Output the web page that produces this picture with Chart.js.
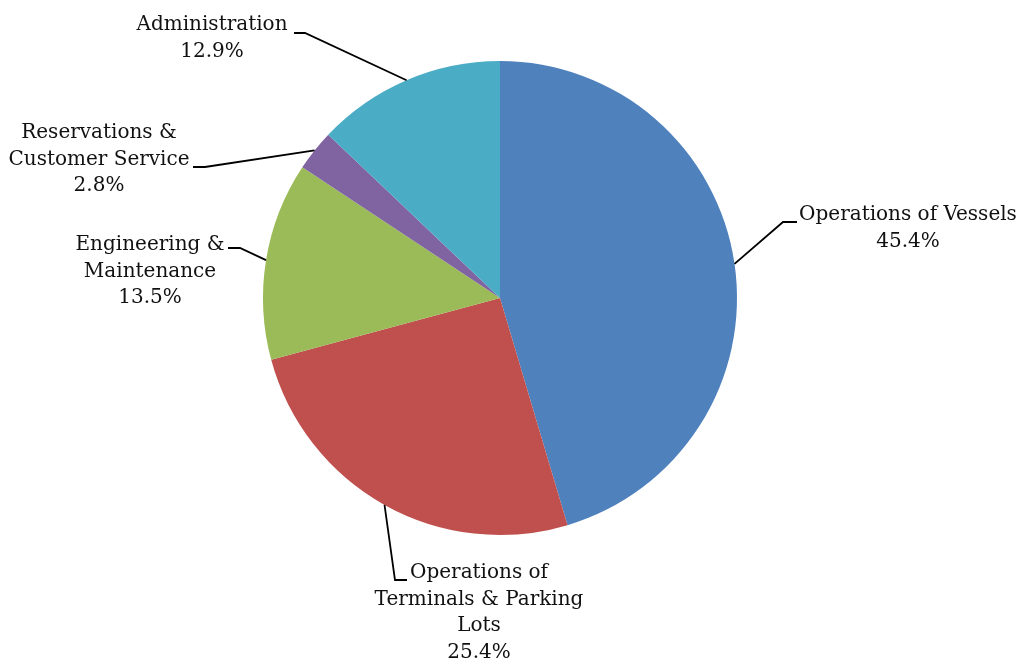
<!DOCTYPE html>
<html>
<head>
<meta charset="utf-8">
<script src="https://cdn.jsdelivr.net/npm/chart.js@4.4.1/dist/chart.umd.min.js"></script>
<style>
  html, body { margin: 0; padding: 0; background: #ffffff; }
  #wrap { width: 1019px; height: 660px; }
</style>
</head>
<body>
<div id="wrap"><canvas id="pie" width="1019" height="660"></canvas></div>
<script>
// Budget share by function (percent)
const categories = [
  'Operations of Vessels',
  'Operations of Terminals & Parking Lots',
  'Engineering & Maintenance',
  'Reservations & Customer Service',
  'Administration'
];
const shares = [45.4, 25.4, 13.5, 2.8, 12.9];
const sliceColors = ['#4F81BD', '#C0504D', '#9BBB59', '#8064A2', '#4BACC6'];

// Wrapped label lines for each slice (the percentage line is appended from the data)
const labelLines = [
  ['Operations of Vessels'],
  ['Operations of', 'Terminals & Parking', 'Lots'],
  ['Engineering &', 'Maintenance'],
  ['Reservations &', 'Customer Service'],
  ['Administration']
];

// Placement of each label block and its leader line (text centre x, middle of first line,
// start of the leader at the text, elbow of the leader)
const labelPlacement = [
  { cx: 908, top: 215, from: [797, 222], elbow: [783, 222] },
  { cx: 479, top: 573, from: [407, 580], elbow: [395, 580] },
  { cx: 150, top: 245, from: [228, 248], elbow: [240, 248] },
  { cx: 99,  top: 133, from: [193, 167], elbow: [205, 167] },
  { cx: 212, top: 25,  from: [294, 33],  elbow: [305, 33] }
];

const FONT = '20px "DejaVu Serif", "Liberation Serif", serif';
const LINE_H = 26.5;

const leaderLabels = {
  id: 'leaderLabels',
  afterDatasetsDraw(chart) {
    const ctx = chart.ctx;
    const meta = chart.getDatasetMeta(0);
    const data = chart.data.datasets[0].data;
    ctx.save();
    meta.data.forEach((arc, i) => {
      const p = arc.getProps(['x', 'y', 'startAngle', 'endAngle', 'outerRadius'], true);
      const mid = (p.startAngle + p.endAngle) / 2;
      const ax = p.x + Math.cos(mid) * p.outerRadius;
      const ay = p.y + Math.sin(mid) * p.outerRadius;
      const pl = labelPlacement[i];

      // leader line
      ctx.strokeStyle = '#000000';
      ctx.lineWidth = 1.8;
      ctx.lineJoin = 'miter';
      ctx.beginPath();
      ctx.moveTo(pl.from[0], pl.from[1]);
      ctx.lineTo(pl.elbow[0], pl.elbow[1]);
      ctx.lineTo(ax, ay);
      ctx.stroke();

      // label text
      const lines = labelLines[i].concat([data[i].toFixed(1) + '%']);
      ctx.font = FONT;
      ctx.fillStyle = '#111111';
      ctx.textAlign = 'center';
      ctx.textBaseline = 'middle';
      lines.forEach((t, k) => {
        ctx.fillText(t, pl.cx, pl.top + k * LINE_H);
      });
    });
    ctx.restore();
  }
};

new Chart(document.getElementById('pie'), {
  type: 'pie',
  data: {
    labels: categories,
    datasets: [{
      data: shares,
      backgroundColor: sliceColors,
      borderWidth: 0
    }]
  },
  options: {
    responsive: false,
    animation: false,
    layout: { padding: { top: 61, bottom: 125, left: 200, right: 219 } },
    plugins: {
      legend: { display: false },
      tooltip: { enabled: false }
    }
  },
  plugins: [leaderLabels]
});
</script>
</body>
</html>
